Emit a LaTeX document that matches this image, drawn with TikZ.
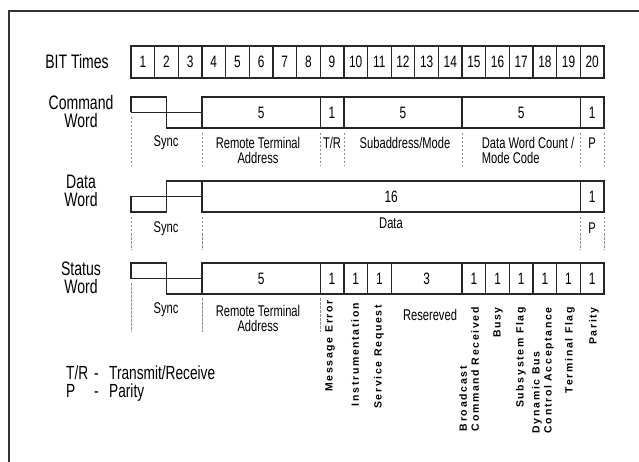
\documentclass[tikz,border=0pt]{standalone}
\usepackage{fontspec}
\setmainfont{Liberation Sans}[FakeStretch=0.72]
\newfontfamily\flagfont{Liberation Sans}[LetterSpace=16]
\usetikzlibrary{positioning}
\newcommand{\bw}{23.65}
\newcommand{\xo}{131}
\tikzset{
	frameline/.style={line width=1.7pt, draw=black!80},
	cell/.style={draw=black!85, line width=1.3pt, minimum height=31pt, inner sep=0pt, font=\fontsize{16.5}{18}\selectfont},
	wave/.style={draw=black!85, line width=1.3pt},
	sepline/.style={draw=black!45, line width=0.6pt, dash pattern=on 2.5pt off 1.5pt},
	fieldlabel/.style={font=\fontsize{15.5}{15}\selectfont, align=center, inner sep=0pt},
	flagtext/.style={rotate=90, anchor=east, inner sep=0pt, align=left, font=\flagfont\bfseries\fontsize{10.5}{12}\selectfont},
	sidelabel/.style={font=\fontsize{19.5}{18}\selectfont, align=center, inner sep=0pt},
	keytext/.style={font=\fontsize{19}{18}\selectfont, anchor=base west, inner sep=0pt},
}
\begin{document}
\begin{tikzpicture}[x=1pt,y=-1pt]
	\useasboundingbox (0,0) rectangle (639,462);
	\draw[frameline] (9,462) -- (9,11) -- (639,11);
	% left labels
	\node[sidelabel] (bitlbl) at (77,62) {BIT Times};
	\node[sidelabel] (cmdlbl) at (81,112) {Command\\Word};
	\node[sidelabel] (datlbl) at (81,191) {Data\\Word};
	\node[sidelabel] (stalbl) at (81,278) {Status\\Word};
	% bit times
	\foreach \i in {1,...,20}
		\node[cell, minimum width={\bw*1pt}, minimum height=32pt] (bit\i) at ({\xo+(\i-0.5)*\bw},62) {\i};
	% command word
	\draw[wave] (\xo,112.5) -- (\xo,97) -- ({\xo+1.5*\bw},97) -- ({\xo+1.5*\bw},128) -- ({\xo+3*\bw},128);
	\draw[wave] (\xo,112.5) -- ({\xo+3*\bw},112.5);
	\foreach \a/\b/\t [count=\n] in {3/8/5,8/9/1,9/14/5,14/19/5,19/20/1}
		\node[cell, minimum width={(\b-\a)*\bw*1pt}] (cmd\n) at ({\xo+(\a+\b)/2*\bw},112.5) {\t};
	\draw[sepline] (\xo,117) -- (\xo,166);
	\foreach \k in {3,8,9,14,19,20}
		\draw[sepline] ({\xo+\k*\bw},133) -- ({\xo+\k*\bw},166);
	\node[fieldlabel] (cmdsync) at (166,143) {Sync};
	\node[fieldlabel] (cmdrta) at (258,150) {Remote Terminal\\Address};
	\node[fieldlabel] (cmdtr) at (332,143) {T/R};
	\node[fieldlabel] (cmdsub) at (405,143) {Subaddress/Mode};
	\node[fieldlabel, align=left] (cmdcount) at (528,150) {Data Word Count /\\Mode Code};
	\node[fieldlabel] (cmdpar) at (592,143) {P};
	% data word
	\draw[wave] (\xo,196.5) -- (\xo,212) -- ({\xo+1.5*\bw},212) -- ({\xo+1.5*\bw},181) -- ({\xo+3*\bw},181);
	\draw[wave] (\xo,196.5) -- ({\xo+3*\bw},196.5);
	\foreach \a/\b/\t [count=\n] in {3/19/16,19/20/1}
		\node[cell, minimum width={(\b-\a)*\bw*1pt}] (dat\n) at ({\xo+(\a+\b)/2*\bw},196.5) {\t};
	\foreach \k in {0,3,19,20}
		\draw[sepline] ({\xo+\k*\bw},217) -- ({\xo+\k*\bw},250);
	\node[fieldlabel] (datsync) at (166,229) {Sync};
	\node[fieldlabel] (datdata) at (391,223) {Data};
	\node[fieldlabel] (datpar) at (592,228) {P};
	% status word
	\draw[wave] (\xo,278.5) -- (\xo,263) -- ({\xo+1.5*\bw},263) -- ({\xo+1.5*\bw},294) -- ({\xo+3*\bw},294);
	\draw[wave] (\xo,278.5) -- ({\xo+3*\bw},278.5);
	\foreach \a/\b/\t [count=\n] in {3/8/5,8/9/1,9/10/1,10/11/1,11/14/3,14/15/1,15/16/1,16/17/1,17/18/1,18/19/1,19/20/1}
		\node[cell, minimum width={(\b-\a)*\bw*1pt}] (sta\n) at ({\xo+(\a+\b)/2*\bw},278.5) {\t};
	\draw[sepline] (\xo,283) -- (\xo,332);
	\foreach \k in {3,8}
		\draw[sepline] ({\xo+\k*\bw},298) -- ({\xo+\k*\bw},332);
	\node[fieldlabel] (stasync) at (166,310) {Sync};
	\node[fieldlabel] (starta) at (258,318) {Remote Terminal\\Address};
	\node[fieldlabel] (stares) at (430,315) {Resereved};
	\node[flagtext] (stame) at (330,300) {Message Error};
	\node[flagtext] (stainst) at (355,303) {Instrumentation};
	\node[flagtext] (stasr) at (379,305) {Service Request};
	\node[flagtext] (stabc) at (469,307) {Broadcast\\Command Received};
	\node[flagtext] (stabusy) at (498,307) {Busy};
	\node[flagtext] (stasub) at (521,307) {Subsystem Flag};
	\node[flagtext] (stadyn) at (543,307) {Dynamic Bus\\Control Acceptance};
	\node[flagtext] (statf) at (570,307) {Terminal Flag};
	\node[flagtext] (stapar) at (594,307) {Parity};
	% key
	\node[keytext] (trkey) at (66,379) {T/R};
	\node[keytext] (trdash) at (94,379) {-};
	\node[keytext] (trtext) at (109,379) {Transmit/Receive};
	\node[keytext] (pkey) at (66,397) {P};
	\node[keytext] (pdash) at (94,397) {-};
	\node[keytext] (ptext) at (109,397) {Parity};
\end{tikzpicture}
\end{document}
